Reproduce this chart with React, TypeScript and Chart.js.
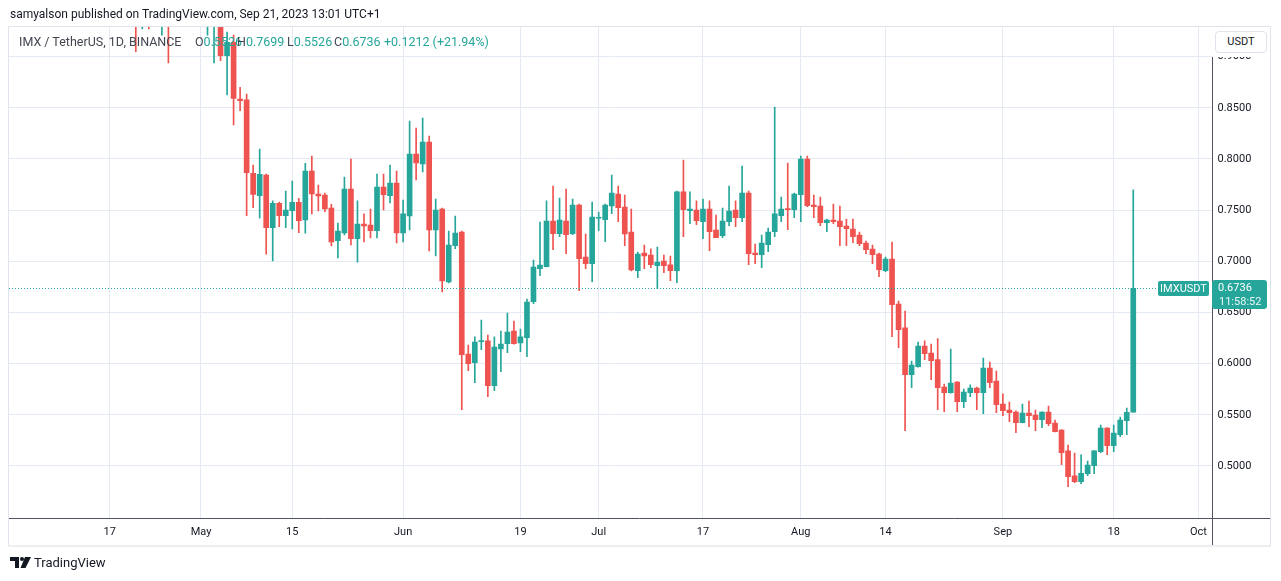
import React, { useEffect, useRef } from 'react';
import { Chart, registerables } from 'chart.js';

Chart.register(...registerables);

// Day index of first candle, counted from 1 Apr 2023 (Apr 19 = 18)
const FIRST_DAY = 18;

// Daily candles, 19 Apr 2023 -> 21 Sep 2023 (IMX / TetherUS, 1D, BINANCE)
const opens = [
  // Apr 19-30
  1.100, 1.020, 0.980, 0.940, 0.965, 0.950, 0.945, 0.975, 0.945, 0.985, 0.965, 0.975,
  // May
  0.955, 0.945, 0.970, 0.990, 0.901, 0.914, 0.8586, 0.8577, 0.7860, 0.7641, 0.7844, 0.7329, 0.7567, 0.7446, 0.7495, 0.7577,
  0.7404, 0.7883, 0.7658, 0.7648, 0.7521, 0.7202, 0.7277, 0.7707, 0.7221, 0.7365, 0.7355, 0.7299, 0.7726, 0.7641, 0.7765,
  // Jun
  0.7277, 0.7443, 0.8049, 0.7951, 0.8166, 0.7306, 0.7511, 0.6798, 0.7153, 0.7287, 0.6094, 0.6009, 0.6215, 0.6222, 0.5785,
  0.6143, 0.6195, 0.6319, 0.6202, 0.6254, 0.6606, 0.6928, 0.6948, 0.7394, 0.7270, 0.7394, 0.7270, 0.7550, 0.7042, 0.6977,
  // Jul
  0.7421, 0.7407, 0.7541, 0.7658, 0.7531, 0.7287, 0.6908, 0.7081, 0.7062, 0.6957, 0.7003, 0.6967, 0.6908, 0.7678, 0.7495,
  0.7502, 0.7387, 0.7511, 0.7306, 0.7250, 0.7387, 0.7502, 0.7426, 0.7668, 0.7081, 0.7065, 0.7163, 0.7290, 0.7446, 0.7511, 0.7505,
  // Aug
  0.7651, 0.8000, 0.7550, 0.7541, 0.7378, 0.7404, 0.7394, 0.7345, 0.7316, 0.7257, 0.7179, 0.7120, 0.7072, 0.6908, 0.7023,
  0.6583, 0.6349, 0.5892, 0.5970, 0.6173, 0.6104, 0.6039, 0.5772, 0.5716, 0.5821, 0.5628, 0.5716, 0.5762, 0.5716, 0.5958, 0.5831,
  // Sep 1-21
  0.5606, 0.5547, 0.5528, 0.5423, 0.5518, 0.5498, 0.5452, 0.5528, 0.5420, 0.5352, 0.5147, 0.4905, 0.4847, 0.4925, 0.5003,
  0.5140, 0.5371, 0.5198, 0.5306, 0.5443, 0.5526,
];

const highs = [
  1.120, 1.050, 0.990, 0.975, 0.980, 0.965, 0.990, 1.000, 1.000, 0.995, 0.985, 0.985,
  0.965, 0.985, 1.000, 1.000, 0.924, 0.9212, 0.8701, 0.8635, 0.7941, 0.8098, 0.7853, 0.7590, 0.7580, 0.7687, 0.7785, 0.7616,
  0.7958, 0.8029, 0.7746, 0.7668, 0.7557, 0.7375, 0.7824, 0.8000, 0.7590, 0.7463, 0.7511, 0.7853, 0.7853, 0.7941, 0.7883,
  0.7599, 0.8371, 0.8303, 0.8401, 0.8225, 0.7609, 0.7520, 0.7296, 0.7443, 0.7295, 0.6182, 0.6261, 0.6427, 0.6280, 0.6261,
  0.6319, 0.6495, 0.6417, 0.6339, 0.6632, 0.7013, 0.7384, 0.7590, 0.7736, 0.7619, 0.7707, 0.7609, 0.7560, 0.7267, 0.7580,
  0.7482, 0.7560, 0.7844, 0.7736, 0.7648, 0.7511, 0.7091, 0.7160, 0.7121, 0.7140, 0.7062, 0.7052, 0.7687, 0.7990, 0.7678,
  0.7590, 0.7609, 0.7590, 0.7453, 0.7521, 0.7736, 0.7590, 0.7932, 0.7687, 0.7169, 0.7257, 0.7326, 0.8508, 0.7629, 0.7961, 0.7668,
  0.8029, 0.8029, 0.7648, 0.7629, 0.7414, 0.7560, 0.7541, 0.7414, 0.7414, 0.7287, 0.7199, 0.7160, 0.7080, 0.7042, 0.7189,
  0.6612, 0.6515, 0.6026, 0.6212, 0.6222, 0.6192, 0.6244, 0.5801, 0.6143, 0.5825, 0.5752, 0.5792, 0.5772, 0.6055, 0.6016, 0.5928,
  0.5704, 0.5625, 0.5538, 0.5606, 0.5635, 0.5547, 0.5530, 0.5586, 0.5449, 0.5355, 0.5205, 0.5127, 0.5108, 0.5049, 0.5150,
  0.5401, 0.5375, 0.5401, 0.5479, 0.5567, 0.7699,
];

const lows = [
  1.000, 0.945, 0.905, 0.927, 0.927, 0.935, 0.921, 0.894, 0.935, 0.950, 0.955, 0.940,
  0.932, 0.921, 0.894, 0.896, 0.8625, 0.8332, 0.8472, 0.7446, 0.7524, 0.7421, 0.7069, 0.7003, 0.7338, 0.7329, 0.7316, 0.7280,
  0.7274, 0.7463, 0.7492, 0.7485, 0.7150, 0.7033, 0.7257, 0.7160, 0.6993, 0.7189, 0.7228, 0.7228, 0.7502, 0.7570, 0.7179,
  0.7189, 0.7306, 0.7795, 0.7873, 0.7101, 0.7052, 0.6700, 0.6788, 0.7123, 0.5550, 0.5931, 0.5814, 0.6136, 0.5677, 0.5736,
  0.5922, 0.6107, 0.6190, 0.6117, 0.6068, 0.6586, 0.6860, 0.6945, 0.7114, 0.7241, 0.7075, 0.7260, 0.6713, 0.6928, 0.6801,
  0.7299, 0.7192, 0.7465, 0.7387, 0.7153, 0.6906, 0.6840, 0.6928, 0.6938, 0.6733, 0.6889, 0.6811, 0.6791, 0.7241, 0.7368,
  0.7358, 0.7221, 0.7104, 0.7231, 0.7231, 0.7348, 0.7338, 0.7387, 0.6967, 0.6977, 0.6938, 0.7094, 0.7241, 0.7387, 0.7309, 0.7426,
  0.7387, 0.7534, 0.7426, 0.7348, 0.7290, 0.7368, 0.7153, 0.7153, 0.7182, 0.7153, 0.7075, 0.6977, 0.6850, 0.6899, 0.6264,
  0.6156, 0.5345, 0.5765, 0.5965, 0.6039, 0.5843, 0.5550, 0.5531, 0.5712, 0.5531, 0.5570, 0.5677, 0.5550, 0.5511, 0.5765, 0.5521,
  0.5492, 0.5433, 0.5325, 0.5420, 0.5384, 0.5345, 0.5374, 0.5394, 0.5332, 0.5013, 0.4798, 0.4837, 0.4827, 0.4905, 0.4925,
  0.5130, 0.5111, 0.5140, 0.5286, 0.5306, 0.5526,
];

const closes = [
  1.020, 0.980, 0.940, 0.965, 0.950, 0.945, 0.975, 0.945, 0.985, 0.965, 0.975, 0.955,
  0.945, 0.970, 0.990, 0.901, 0.914, 0.8593, 0.8570, 0.7866, 0.7655, 0.7850, 0.7329, 0.7567, 0.7446, 0.7502, 0.7577, 0.7397,
  0.7883, 0.7658, 0.7638, 0.7511, 0.7189, 0.7296, 0.7707, 0.7221, 0.7365, 0.7345, 0.7299, 0.7726, 0.7651, 0.7765, 0.7277,
  0.7463, 0.8049, 0.7961, 0.8166, 0.7306, 0.7502, 0.6808, 0.7160, 0.7277, 0.6088, 0.6000, 0.6212, 0.6222, 0.5785, 0.6163,
  0.6192, 0.6309, 0.6195, 0.6261, 0.6603, 0.6945, 0.6964, 0.7394, 0.7270, 0.7404, 0.7260, 0.7550, 0.7026, 0.6977, 0.7433,
  0.7424, 0.7550, 0.7668, 0.7524, 0.7267, 0.6915, 0.7072, 0.7052, 0.6967, 0.6993, 0.6957, 0.6908, 0.7678, 0.7505, 0.7511,
  0.7397, 0.7511, 0.7290, 0.7231, 0.7394, 0.7492, 0.7426, 0.7668, 0.7075, 0.7065, 0.7179, 0.7287, 0.7463, 0.7511, 0.7505, 0.7658,
  0.8000, 0.7544, 0.7534, 0.7378, 0.7404, 0.7387, 0.7338, 0.7319, 0.7241, 0.7172, 0.7114, 0.7065, 0.6918, 0.7023, 0.6576,
  0.6332, 0.5892, 0.5987, 0.6173, 0.6097, 0.6029, 0.5765, 0.5716, 0.5811, 0.5628, 0.5723, 0.5762, 0.5716, 0.5958, 0.5814, 0.5599,
  0.5540, 0.5521, 0.5423, 0.5518, 0.5492, 0.5452, 0.5528, 0.5413, 0.5335, 0.5130, 0.4895, 0.4847, 0.4929, 0.5010, 0.5147,
  0.5371, 0.5198, 0.5322, 0.5449, 0.5524, 0.6736,
];

// Time axis ticks (days since 1 Apr 2023) and their labels
const timeTickDays = [16, 30, 44, 61, 79, 91, 107, 122, 135, 153, 170, 183];
const timeTickLabels = ['17', 'May', '15', 'Jun', '19', 'Jul', '17', 'Aug', '14', 'Sep', '18', 'Oct'];

// Price axis ticks
const priceTicks = [0.5, 0.55, 0.6, 0.65, 0.7, 0.75, 0.8, 0.85, 0.9];

const UP = '#26a69a';
const DOWN = '#ef5350';
const GRID = '#e3eaf1';
const TEXT = '#131722';
const FONT = 'Roboto, "Liberation Sans", sans-serif';

const framePlugin = {
  id: 'tvFrame',
  beforeDraw(chart: any) {
    const c = chart.ctx;
    c.save();
    c.fillStyle = '#ffffff';
    c.fillRect(0, 0, chart.width, chart.height);
    c.restore();
  },
  afterDatasetsDraw(chart: any) {
    const c = chart.ctx;
    const a = chart.chartArea;
    const y = Math.round(chart.scales.y.getPixelForValue(closes[closes.length - 1])) + 0.5;
    c.save();
    c.strokeStyle = UP;
    c.lineWidth = 1;
    c.setLineDash([1, 2]);
    c.beginPath();
    c.moveTo(a.left, y);
    c.lineTo(1158, y);
    c.stroke();
    c.restore();
  },
  afterDraw(chart: any) {
    const c = chart.ctx;
    const a = chart.chartArea;
    c.save();
    c.strokeStyle = '#e0e3eb';
    c.lineWidth = 1;
    c.beginPath();
    c.moveTo(8.5, 26.5);
    c.lineTo(1270.5, 26.5);
    c.moveTo(8.5, 26.5);
    c.lineTo(8.5, 546);
    c.moveTo(1270.5, 26.5);
    c.lineTo(1270.5, 546);
    c.stroke();
    c.strokeStyle = '#eceef2';
    c.lineWidth = 2;
    c.beginPath();
    c.moveTo(8, 546);
    c.lineTo(1271, 546);
    c.stroke();
    c.strokeStyle = '#50535e';
    c.lineWidth = 1;
    const by = Math.round(a.bottom) + 0.5;
    const rx = Math.round(a.right) + 0.5;
    c.beginPath();
    c.moveTo(a.left, by);
    c.lineTo(1270, by);
    c.moveTo(rx, 57);
    c.lineTo(rx, 545);
    c.stroke();
    c.restore();
  },
};

export default function App() {
  const ref = useRef<HTMLCanvasElement | null>(null);

  useEffect(() => {
    const canvas = ref.current;
    if (!canvas) return;
    const days = opens.map((_, i) => FIRST_DAY + i);
    const colors = closes.map((c, i) => (c >= opens[i] ? UP : DOWN));

    const chart = new Chart(canvas, {
      type: 'bar',
      data: {
        datasets: [
          {
            label: 'body',
            data: days.map((d, i) => ({ x: d, y: [opens[i], closes[i]] })) as any,
            backgroundColor: colors,
            borderWidth: 0,
            barThickness: 5,
            minBarLength: 1,
            grouped: false,
            order: 0,
          },
          {
            label: 'wick',
            data: days.map((d, i) => ({ x: d, y: [lows[i], highs[i]] })) as any,
            backgroundColor: colors,
            borderWidth: 0,
            barThickness: 1,
            grouped: false,
            order: 1,
          },
        ],
      },
      options: {
        responsive: false,
        maintainAspectRatio: false,
        animation: false,
        layout: { padding: { left: 9, top: 27, right: 11, bottom: 36 } },
        plugins: { legend: { display: false }, tooltip: { enabled: false } },
        scales: {
          x: {
            type: 'linear',
            position: 'bottom',
            min: 0.55,
            max: 185,
            offset: false,
            afterBuildTicks: (s: any) => {
              s.ticks = timeTickDays.map((v) => ({ value: v }));
            },
            afterFit: (s: any) => {
              s.height = 27;
            },
            ticks: {
              autoSkip: false,
              maxRotation: 0,
              padding: 8,
              color: TEXT,
              font: { family: FONT, size: 11 },
              callback: (v: any) => {
                const k = timeTickDays.indexOf(Number(v));
                return k >= 0 ? timeTickLabels[k] : '';
              },
            },
            grid: { color: GRID, drawTicks: false, offset: false },
            border: { display: false },
          },
          y: {
            type: 'linear',
            position: 'right',
            min: 0.44918,
            max: 0.92899,
            beginAtZero: false,
            afterBuildTicks: (s: any) => {
              s.ticks = priceTicks.map((v) => ({ value: v }));
            },
            afterFit: (s: any) => {
              s.width = 58.5;
            },
            ticks: {
              padding: 6,
              color: TEXT,
              font: { family: FONT, size: 11 },
              callback: (v: any) => Number(v).toFixed(4),
            },
            grid: { color: GRID, drawTicks: false },
            border: { display: false },
          },
        },
      } as any,
      plugins: [framePlugin],
    });
    return () => chart.destroy();
  }, []);

  const last = closes.length - 1;
  const change = closes[last] - closes[last - 1];
  const pct = (change / closes[last - 1]) * 100;
  const legendStyle: React.CSSProperties = {
    position: 'absolute',
    top: 34,
    fontSize: 12.5,
    lineHeight: '16px',
    whiteSpace: 'nowrap',
  };

  return (
    <div
      style={{
        position: 'absolute',
        left: 0,
        top: 0,
        width: 1281,
        height: 581,
        background: '#fff',
        fontFamily: FONT,
        overflow: 'hidden',
      }}
    >
      <canvas ref={ref} width={1281} height={581} style={{ position: 'absolute', left: 0, top: 0 }} />
      <div style={{ position: 'absolute', left: 10, top: 6, fontSize: 12, lineHeight: '16px', color: TEXT, whiteSpace: 'nowrap' }}>
        samyalson published on TradingView.com, Sep 21, 2023 13:01 UTC+1
      </div>
      <div style={{ ...legendStyle, left: 19, color: '#434651' }}>IMX / TetherUS, 1D, BINANCE</div>
      <div style={{ ...legendStyle, left: 195 }}>
        <span style={{ color: '#434651' }}>O</span>
        <span style={{ color: UP }}>{opens[last].toFixed(4)}</span>
      </div>
      <div style={{ ...legendStyle, left: 237 }}>
        <span style={{ color: '#434651' }}>H</span>
        <span style={{ color: UP }}>{highs[last].toFixed(4)}</span>
      </div>
      <div style={{ ...legendStyle, left: 287 }}>
        <span style={{ color: '#434651' }}>L</span>
        <span style={{ color: UP }}>{lows[last].toFixed(4)}</span>
      </div>
      <div style={{ ...legendStyle, left: 334 }}>
        <span style={{ color: '#434651' }}>C</span>
        <span style={{ color: UP }}>{closes[last].toFixed(4)}</span>
      </div>
      <div style={{ ...legendStyle, left: 384, color: UP }}>
        {'+' + change.toFixed(4) + ' (+' + pct.toFixed(2) + '%)'}
      </div>

      {/* price-axis header */}
      <div style={{ position: 'absolute', left: 1212, top: 27, width: 58, height: 30, background: '#fff' }} />
      <div
        style={{
          position: 'absolute',
          left: 1215,
          top: 31,
          width: 50,
          height: 20,
          border: '1px solid #e0e3eb',
          borderRadius: 4,
          background: '#fff',
          fontSize: 11,
          lineHeight: '20px',
          textAlign: 'center',
          color: TEXT,
        }}
      >
        USDT
      </div>

      {/* last price labels */}
      <div
        style={{
          position: 'absolute',
          left: 1158,
          top: 281,
          width: 51,
          height: 15,
          background: UP,
          borderRadius: 2,
          color: '#fff',
          fontSize: 11,
          lineHeight: '15px',
          textAlign: 'center',
        }}
      >
        IMXUSDT
      </div>
      <div
        style={{
          position: 'absolute',
          left: 1212,
          top: 280,
          width: 55,
          height: 29,
          background: UP,
          borderRadius: 3,
          color: '#fff',
          fontSize: 11,
        }}
      >
        <div style={{ position: 'absolute', left: 6, top: 1, lineHeight: '14px' }}>{closes[last].toFixed(4)}</div>
        <div style={{ position: 'absolute', left: 7, top: 15, lineHeight: '14px', color: 'rgba(255,255,255,0.9)' }}>11:58:52</div>
      </div>

      {/* footer */}
      <div style={{ position: 'absolute', left: 10, top: 555, display: 'flex', alignItems: 'center', whiteSpace: 'nowrap' }}>
        <svg width="21" height="12" viewBox="0 0 21 12" style={{ marginRight: 3 }}>
          <path d="M0 0 H9 V11 H5 V4 H0 Z" fill="#131722" />
          <circle cx="12" cy="2" r="2" fill="#131722" />
          <path d="M15 0 H21 L15.5 11 H10.5 Z" fill="#131722" />
        </svg>
        <span style={{ fontSize: 13, color: TEXT, lineHeight: '16px' }}>TradingView</span>
      </div>
    </div>
  );
}
